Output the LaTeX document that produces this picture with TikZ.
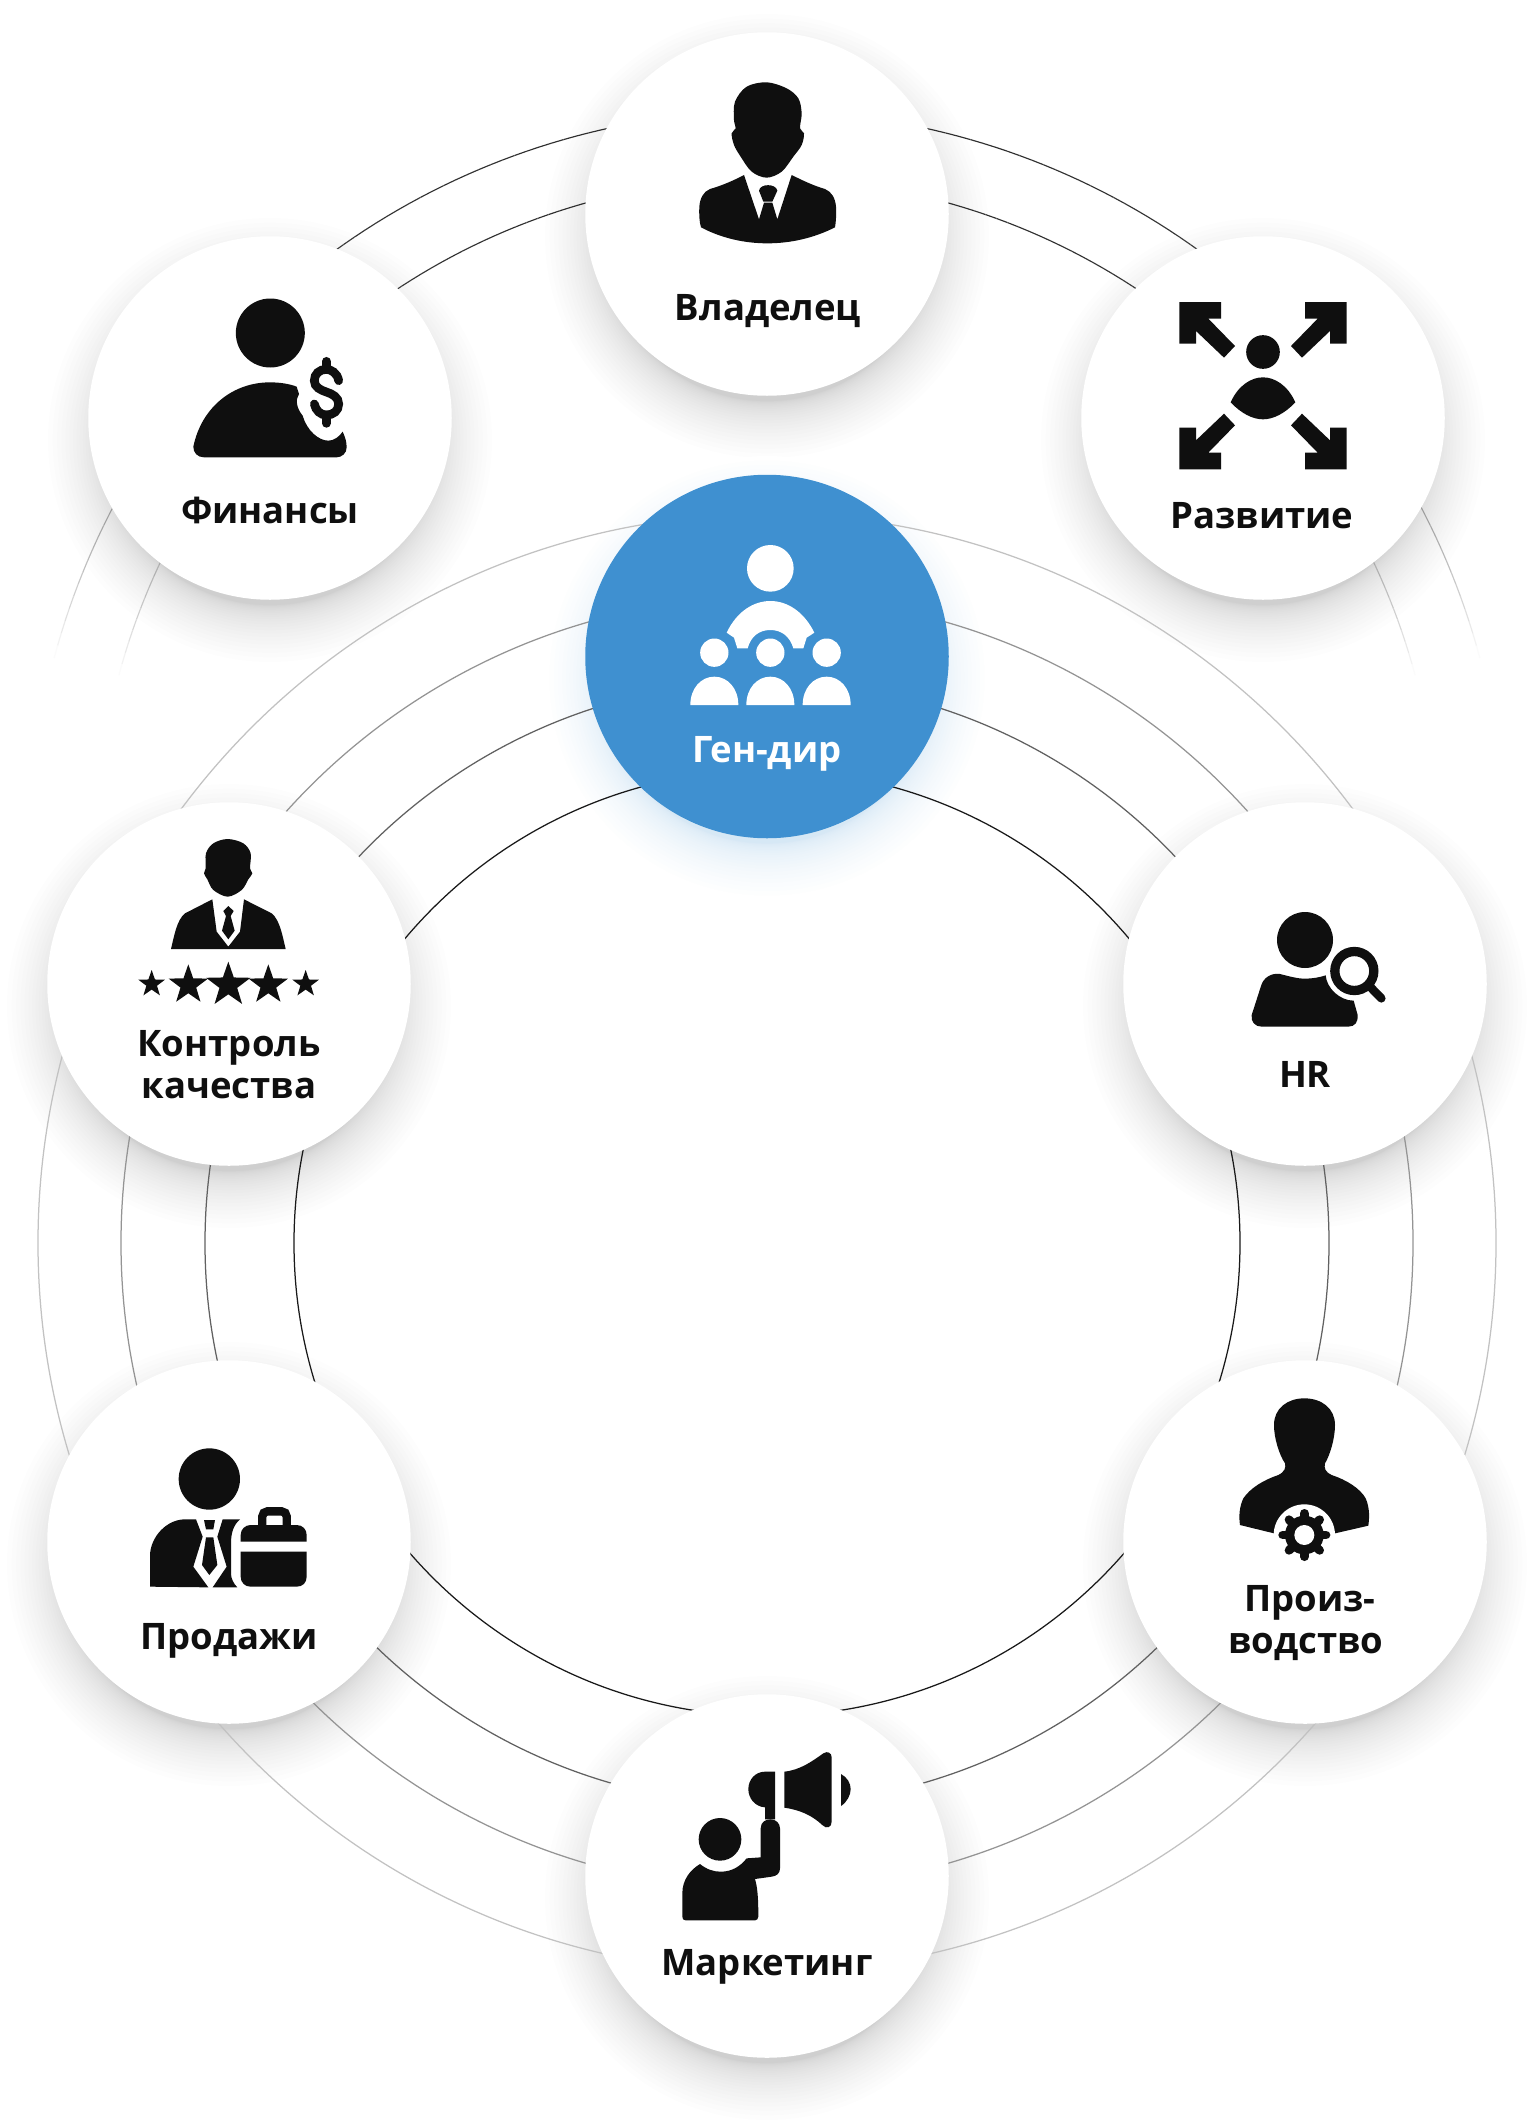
\documentclass[tikz,border=0pt]{standalone}
\usepackage{fontspec}
\setmainfont{Open Sans}
\definecolor{ink}{HTML}{0F0F0F}
\definecolor{chiefblue}{HTML}{3F90D0}
\tikzset{
  x=1pt,y=-1pt,
  iconframe/.style 2 args={shift={(#1,#2)},x=.33333pt,y=-.33333pt},
  ringline/.style={line width=1.25pt},
  bubble/.style={circle,fill=white,minimum size=363.5pt,inner sep=0pt,outer sep=0pt},
  chiefbubble/.style={circle,fill=chiefblue,minimum size=363.5pt,inner sep=0pt,outer sep=0pt},
  caption/.style={anchor=base,inner sep=0pt,font=\fontsize{36.5}{42}\selectfont\bfseries,text=ink},
  chiefcaption/.style={anchor=base,inner sep=0pt,font=\fontsize{36.5}{42}\selectfont\bfseries,text=white},
}
\newcommand\softshadow[2]{%
  \foreach \i in {1,...,24}{%
    \pgfmathsetmacro\rr{165+57*(\i/24)^2}%
    \fill[black,opacity=.0085] (#1,{#2+22}) circle[radius=\rr];
  }}
\newcommand\iconstar[3]{%
  \fill[ink] plot[variable=\k,samples at={0,1,...,9}]
    ({#1+#3*(mod(\k,2)==0?1:0.4)*sin(36*\k)},{#2-#3*(mod(\k,2)==0?1:0.4)*cos(36*\k)}) -- cycle;}
\begin{document}
\begin{tikzpicture}
\useasboundingbox (0,0) rectangle (1534,2120);
\fill[white] (0,0) rectangle (1534,2120);

% soft shadows
\softshadow{767}{214}
\softshadow{270}{418}
\softshadow{1263}{418}
\softshadow{229}{984}
\softshadow{1305}{984}
\softshadow{229}{1542}
\softshadow{1305}{1542}
\softshadow{767}{1876}
\foreach \i in {24,23,...,1}{%
  \pgfmathsetmacro\rr{165+57*(\i/24)^2}%
  \pgfmathsetmacro\pp{22*(1-\i/24)}%
  \fill[chiefblue!\pp!white] (767,678) circle[radius=\rr];
}

% concentric rings round the lower group
\draw[ringline,color=black!90] (767,1243) circle[radius=473];
\draw[ringline,color=black!62] (767,1243) circle[radius=562];
\draw[ringline,color=black!42] (767,1243) circle[radius=646];
\draw[ringline,color=black!24] (767,1243) circle[radius=729];

% upper arcs, fading towards their ends
\foreach \ra in {738,671}{%
  \foreach \a in {15,16,...,165}{%
    \pgfmathsetmacro\tt{min(1,max(0,1-(sin(\a+0.5)-0.26)/0.74))}%
    \pgfmathsetmacro\dd{82*(1-\tt*\tt)}%
    \draw[line width=1.15pt,color=black!\dd]
      ({767+\ra*cos(\a)},{849-\ra*sin(\a)}) -- ({767+\ra*cos(\a+1)},{849-\ra*sin(\a+1)});
  }}

% bubbles
\node[bubble] (owner) at (767,214) {};
\node[bubble] (finance) at (270,418) {};
\node[bubble] (growth) at (1263,418) {};
\node[chiefbubble] (chief) at (767,656.5) {};
\node[bubble] (quality) at (229,984) {};
\node[bubble] (hr) at (1305,984) {};
\node[bubble] (sales) at (229,1542) {};
\node[bubble] (production) at (1305,1542) {};
\node[bubble] (marketing) at (767,1876) {};

% captions
\node[caption] (ownertext) at (768,320) {Владелец};
\node[chiefcaption] (chieftext) at (767,762) {Ген-дир};
\node[caption] (financetext) at (270,523) {Финансы};
\node[caption] (growthtext) at (1262,528) {Развитие};
\node[caption] (qualitytexta) at (229,1056.5) {Контроль};
\node[caption] (qualitytextb) at (229,1098.5) {качества};
\node[caption] (hrtext) at (1305,1087.5) {HR};
\node[caption] (prodtexta) at (1310,1611) {Произ-};
\node[caption] (prodtextb) at (1306,1653) {водство};
\node[caption] (marketingtext) at (767,1975) {Маркетинг};
\node[caption] (salestext) at (229,1649) {Продажи};

% owner icon
\begin{scope}[iconframe={560}{20}]
\fill[ink] plot[smooth cycle,tension=.55] coordinates {(620,187) (560,200) (525,245) (522,300) (527,325) (515,340) (522,375) (542,410) (575,455) (620,473) (665,455) (700,410) (725,375) (732,340) (720,325) (725,280) (715,235) (680,205)};
\fill[ink] (552,465) -- (597,598) -- (612,548) -- (637,548) -- (652,598) -- (695,465)
  .. controls (725,480) and (760,497) .. (795,507)
  .. controls (815,515) and (826,535) .. (828,560)
  .. controls (829,585) and (828,605) .. (825,622)
  .. controls (760,655) and (690,670) .. (622,670)
  .. controls (555,670) and (485,655) .. (423,622)
  .. controls (418,605) and (417,585) .. (418,560)
  .. controls (420,535) and (430,515) .. (450,507)
  .. controls (485,497) and (520,482) .. (552,465) -- cycle;
\fill[ink] (597,512) .. controls (600,490) and (648,490) .. (652,512) -- (637,545) -- (610,545) -- cycle;
\end{scope}

% chief icon
\begin{scope}[iconframe={570}{470}]
\fill[white] (601,295) circle[radius=70];
\fill[white] (470,488) .. controls (500,425) and (550,393) .. (601,393)
  .. controls (652,393) and (702,425) .. (733,488) -- (710,503) -- (700,535) -- (670,535)
  .. controls (660,500) and (635,480) .. (601,480)
  .. controls (567,480) and (542,500) .. (533,535) -- (502,535) -- (492,503) -- cycle;
\foreach \cx in {433,601,770}{%
  \fill[white] (\cx,548) circle[radius=42.5];
  \fill[white] ({\cx-72},705) .. controls ({\cx-72},655) and ({\cx-40},620) .. (\cx,620)
    .. controls ({\cx+40},620) and ({\cx+72},655) .. ({\cx+72},705) -- cycle;
}
\end{scope}

% finance icon
\begin{scope}[iconframe={80}{250}]
\fill[ink] (571,249) circle[radius=103.5];
\fill[ink] (340,590) .. controls (365,470) and (460,397) .. (570,397)
  .. controls (600,397) and (630,402) .. (650,410)
  -- (657,432) .. controls (645,450) and (650,475) .. (668,497)
  .. controls (680,540) and (715,572) .. (745,572)
  .. controls (762,572) and (778,560) .. (788,545)
  .. controls (795,560) and (800,575) .. (800,592)
  .. controls (800,610) and (785,622) .. (770,622)
  -- (372,622) .. controls (352,622) and (340,608) .. (340,590) -- cycle;
\draw[ink,line width=8.7pt,line cap=round] (776,392)
  .. controls (772,368) and (752,358) .. (739,358)
  .. controls (718,358) and (703,372) .. (703,392)
  .. controls (703,412) and (722,420) .. (739,426)
  .. controls (758,432) and (776,442) .. (776,462)
  .. controls (776,482) and (760,495) .. (739,495)
  .. controls (722,495) and (707,482) .. (703,462);
\draw[ink,line width=8.7pt,line cap=round] (739,334) -- (739,358) (739,495) -- (739,520);
\end{scope}

% growth icon
\begin{scope}[iconframe={1070}{250}]
\foreach \sx/\sy in {1/1,-1/1,1/-1,-1/-1}{%
  \fill[ink] ({579+\sx*(-251)},{407+\sy*(-251)}) -- ({579+\sx*(-126)},{407+\sy*(-251)})
    -- ({579+\sx*(-126)},{407+\sy*(-201)}) -- ({579+\sx*(-164)},{407+\sy*(-201)})
    -- ({579+\sx*(-84)},{407+\sy*(-119)}) -- ({579+\sx*(-117)},{407+\sy*(-84)})
    -- ({579+\sx*(-201)},{407+\sy*(-164)}) -- ({579+\sx*(-201)},{407+\sy*(-126)})
    -- ({579+\sx*(-251)},{407+\sy*(-126)}) -- cycle;
}
\fill[ink] (579,306) circle[radius=50.5];
\fill[ink] (482,457) .. controls (505,405) and (545,382) .. (579,382)
  .. controls (613,382) and (653,405) .. (676,457)
  .. controls (645,490) and (610,508) .. (579,508)
  .. controls (548,508) and (513,490) .. (482,457) -- cycle;
\end{scope}

% quality icon
\begin{scope}[iconframe={100}{800}]
\fill[ink] plot[smooth cycle,tension=.55] coordinates {(383,117) (340,130) (318,160) (317,205) (312,220) (322,238) (340,270) (383,290) (425,270) (445,238) (457,220) (450,205) (452,160) (430,130)};
\fill[ink] (337,298) -- (350,395) -- (385,440) -- (420,395) -- (432,298)
  -- (515,340) .. controls (540,360) and (548,410) .. (557,447) -- (213,447)
  .. controls (222,410) and (230,360) .. (255,340) -- cycle;
\fill[ink] (385,318) -- (401,333) -- (392,348) -- (404,392) -- (385,418) -- (366,392) -- (378,348) -- (370,333) -- cycle;
\iconstar{155}{552}{42}
\iconstar{265}{555}{62}
\iconstar{385}{555}{70}
\iconstar{505}{555}{62}
\iconstar{617}{552}{42}
\end{scope}

% hr icon
\begin{scope}[iconframe={1180}{880}]
\fill[ink] (375,180) circle[radius=84];
\fill[ink] (215,405) -- (243,318) .. controls (250,292) and (275,278) .. (300,282)
  .. controls (325,288) and (350,296) .. (375,296)
  .. controls (395,296) and (420,292) .. (437,286)
  .. controls (440,325) and (480,362) .. (521,362) -- (533,405)
  .. controls (535,425) and (525,440) .. (505,440) -- (245,440)
  .. controls (225,440) and (212,425) .. (215,405) -- cycle;
\draw[ink,line width=9.3pt] (523,273) circle[radius=58.5];
\draw[ink,line width=8.5pt,line cap=round] (570,320) -- (604,355);
\end{scope}

% production icon
\begin{scope}[iconframe={1200}{1380}]
\fill[ink] (313,55) .. controls (365,55) and (405,85) .. (405,135)
  .. controls (405,175) and (390,225) .. (375,250)
  .. controls (372,265) and (375,275) .. (395,285)
  .. controls (440,300) and (480,325) .. (497,355)
  .. controls (510,385) and (508,415) .. (505,437)
  -- (405,460) -- (222,460) -- (120,435)
  .. controls (116,410) and (118,380) .. (130,355)
  .. controls (150,325) and (190,300) .. (235,285)
  .. controls (255,275) and (258,262) .. (255,250)
  .. controls (238,225) and (222,175) .. (222,135)
  .. controls (222,85) and (262,55) .. (313,55) -- cycle;
\fill[white] (313,465) circle[radius=92];
\fill[ink] (313,465) circle[radius=58];
\foreach \a in {0,45,...,315}{%
  \draw[ink,line width=8.7pt,line cap=round] ({313+50*cos(\a)},{465+50*sin(\a)}) -- ({313+65*cos(\a)},{465+65*sin(\a)});
}
\fill[white] (313,465) circle[radius=30];
\end{scope}

% marketing icon
\begin{scope}[iconframe={640}{1720}]
\fill[ink] (240,358) circle[radius=64];
\fill[ink] (127,590) -- (127,520) .. controls (127,480) and (150,450) .. (180,432)
  .. controls (200,448) and (220,455) .. (242,455)
  .. controls (275,455) and (300,440) .. (320,415) -- (362,412) -- (362,325)
  .. controls (362,305) and (378,298) .. (392,298)
  .. controls (408,298) and (420,310) .. (420,325) -- (420,445)
  .. controls (420,460) and (410,468) .. (395,470) -- (345,477)
  .. controls (352,500) and (355,530) .. (355,590)
  .. controls (355,597) and (350,601) .. (345,601) -- (137,601)
  .. controls (130,601) and (127,597) .. (127,590) -- cycle;
\fill[ink] (405,155) -- (375,155) .. controls (345,155) and (325,180) .. (325,207)
  .. controls (325,235) and (345,260) .. (375,262) -- (375,298) -- (405,298) -- cycle;
\fill[ink] (433,155) .. controls (480,150) and (515,125) .. (550,100)
  .. controls (562,92) and (575,98) .. (575,112) -- (575,305)
  .. controls (575,322) and (560,328) .. (548,316)
  .. controls (515,285) and (480,270) .. (433,263) -- cycle;
\fill[ink] (603,162) .. controls (622,172) and (632,190) .. (632,207)
  .. controls (632,225) and (622,245) .. (603,258) -- cycle;
\end{scope}

% sales icon
\begin{scope}[iconframe={130}{1430}]
\fill[ink] (238,147) circle[radius=92];
\fill[ink] (60,470) -- (60,375) .. controls (62,320) and (110,268) .. (165,268) -- (198,268)
  -- (218,320) -- (190,410) -- (235,472) -- cycle;
\fill[ink] (278,268) -- (330,268) .. controls (310,285) and (303,310) .. (303,340)
  -- (303,430) .. controls (303,445) and (310,460) .. (322,472) -- (248,472)
  -- (290,410) -- (262,320) -- cycle;
\fill[ink] (222,270) -- (255,270) -- (250,298) -- (228,298) -- cycle;
\fill[ink] (228,322) -- (250,322) -- (262,405) -- (238,435) -- (216,405) -- cycle;
\fill[ink] (332,335) -- (332,315) .. controls (332,298) and (345,285) .. (362,285)
  -- (500,285) .. controls (518,285) and (530,298) .. (530,315) -- (530,335) -- cycle;
\fill[ink] (332,365) -- (530,365) -- (530,440) .. controls (530,458) and (518,470) .. (500,470)
  -- (362,470) .. controls (345,470) and (332,458) .. (332,440) -- cycle;
\draw[ink,line width=8.3pt,rounded corners=5pt] (397,288) -- (397,244) -- (470,244) -- (470,288);
\end{scope}
\end{tikzpicture}
\end{document}
